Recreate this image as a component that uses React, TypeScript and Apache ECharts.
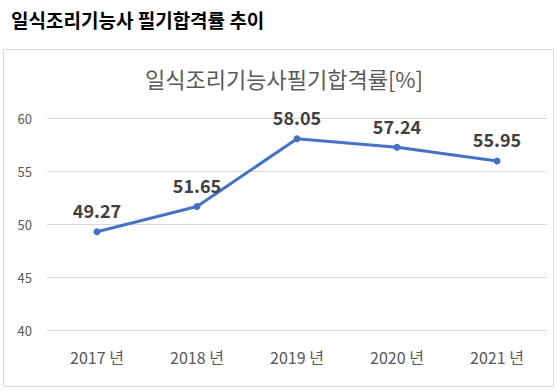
import React, { useEffect, useRef } from "react";
import * as echarts from "echarts";

const categories = ["2017 년", "2018 년", "2019 년", "2020 년", "2021 년"];
const passRates = [49.27, 51.65, 58.05, 57.24, 55.95];
const pageTitle = "일식조리기능사 필기합격률 추이";
const chartTitle = "일식조리기능사필기합격률[%]";

const FONT = "'Noto Sans CJK KR', 'Noto Sans', sans-serif";

export default function App() {
  const ref = useRef<HTMLDivElement>(null);
  useEffect(() => {
    if (!ref.current) return;
    const chart = echarts.init(ref.current, null, { renderer: "svg" });
    chart.setOption({
      animation: false,
      backgroundColor: "#ffffff",
      textStyle: { fontFamily: FONT },
      title: [
        {
          text: pageTitle,
          left: 6,
          top: 5,
          textStyle: { fontSize: 19, fontWeight: "bold", color: "#000000", fontFamily: FONT },
        },
        {
          text: chartTitle,
          left: 279,
          textAlign: "center",
          top: 62,
          textStyle: { fontSize: 22, fontWeight: "normal", color: "#595959", fontFamily: FONT },
        },
      ],
      graphic: [
        {
          type: "rect",
          shape: { x: 3.5, y: 49.5, width: 550, height: 337 },
          style: { fill: "none", stroke: "#d9d9d9", lineWidth: 1 },
          silent: true,
        },
      ],
      grid: { left: 47, right: 10, top: 118, bottom: 61 },
      xAxis: {
        type: "category",
        data: categories,
        boundaryGap: true,
        axisLine: { show: false },
        axisTick: { show: false },
        axisLabel: { color: "#595959", fontSize: 16, margin: 19, fontFamily: FONT },
      },
      yAxis: {
        type: "value",
        min: 40,
        max: 60,
        interval: 5,
        axisLine: { show: false },
        axisTick: { show: false },
        splitLine: { lineStyle: { color: "#d9d9d9", width: 1 } },
        axisLabel: { color: "#595959", fontSize: 13, margin: 15, fontFamily: FONT },
      },
      series: [
        {
          type: "line",
          data: passRates,
          symbol: "circle",
          symbolSize: 7,
          lineStyle: { color: "#4472C4", width: 3 },
          itemStyle: { color: "#4472C4" },
          label: {
            show: true,
            position: "top",
            distance: 9,
            fontSize: 18,
            fontWeight: "bold",
            color: "#404040",
            fontFamily: FONT,
            formatter: (p: any) => p.value.toFixed(2),
          },
        },
      ],
    });
    return () => chart.dispose();
  }, []);
  return (
    <div
      ref={ref}
      style={{ position: "fixed", left: 0, top: 0, width: 557, height: 391 }}
    />
  );
}
